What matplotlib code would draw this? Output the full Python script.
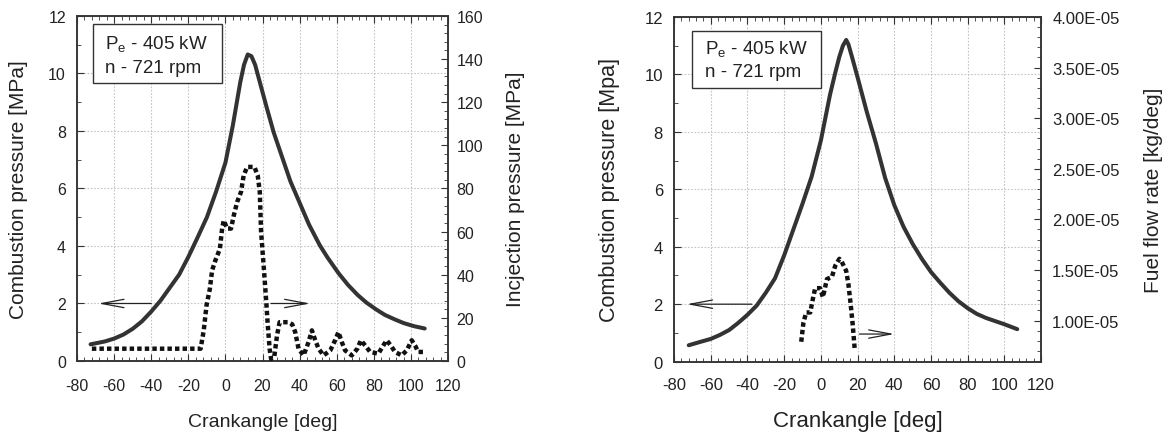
import matplotlib
matplotlib.use("Agg")
import matplotlib.pyplot as plt
from matplotlib.patches import Rectangle
from matplotlib.ticker import MultipleLocator, FixedLocator, FuncFormatter

plt.rcParams['font.family'] = ['Liberation Sans', 'DejaVu Sans']
plt.rcParams['axes.unicode_minus'] = False

# ---- data: left panel (combustion + injection pressure)
comb1_x = [-72.7, -65, -60, -55, -50, -45, -40, -35, -30, -25, -20, -15, -10, -5, 0, 4, 8, 10, 12, 14,
           16, 18.3, 22.3, 26, 30.5, 35, 40.6, 45, 50.8, 55, 61, 66, 71.2, 76, 81.3, 86, 91.5, 96, 101.7, 107.4]
comb1_y = [0.58, 0.68, 0.78, 0.92, 1.12, 1.38, 1.72, 2.1, 2.55, 3.0, 3.62, 4.3, 5.0, 5.9, 6.9, 8.2, 9.7, 10.3,
           10.66, 10.6, 10.3, 9.75, 8.8, 7.95, 7.1, 6.25, 5.41, 4.75, 4.03, 3.6, 3.05, 2.65, 2.3, 2.03, 1.79,
           1.6, 1.44, 1.32, 1.21, 1.13]

inj_x = [-72, -13.4, -11.7, -10.2, -8.4, -7.2, -5.4, -3.0, -1.8, -0.9, 0.9, 3.0, 4.5, 6.3, 8.4, 9.8, 11.7,
         15.6, 17.4, 18.5, 19.2, 20.6, 22.0, 22.7, 23.8, 24.6, 26.3, 27.8, 29.2, 34, 36, 37.6, 39.4, 42.1,
         44.8, 46.6, 48.4, 50.2, 52.9, 56.5, 59.1, 60.9, 62.7, 64.5, 68.1, 71.1, 73, 75.3, 78, 82.4, 85.1,
         86.9, 89.1, 91.4, 95, 97.7, 100.4, 102.2, 103.9, 106.6]
inj_p = [5.7, 5.7, 14.2, 25.8, 33.5, 42, 46.7, 52, 61.4, 65.2, 61.4, 61.4, 67.5, 73.7, 78.4, 86, 90,
         90, 86, 78.4, 60, 44, 27.4, 18, 5.7, 1, 1.9, 11.9, 18, 18, 17, 13.4, 5.7, 2.6,
         8.8, 14.2, 9.6, 5.7, 2.6, 4.9, 9.6, 13.4, 8.8, 4.9, 2.6, 5.7, 9.6, 7.2, 4.2, 3.4, 7.2,
         9.6, 7.2, 4.2, 2.6, 4.9, 9.6, 7.2, 4.2, 4.2]

# ---- data: right panel (combustion + fuel flow rate)
comb2_x = [-72, -65, -60, -55, -50, -45, -40, -35, -30, -25, -20, -15, -10, -5, 0, 5, 8, 10, 12, 13.8,
           15, 17, 20, 25, 30, 35, 40, 45, 50, 55, 60, 65, 70, 75, 80, 85, 90, 95, 100, 107]
comb2_y = [0.57, 0.70, 0.79, 0.93, 1.1, 1.35, 1.63, 1.95, 2.4, 2.9, 3.7, 4.6, 5.5, 6.45, 7.7, 9.3, 10.1,
           10.6, 11.0, 11.2, 11.05, 10.6, 9.9, 8.7, 7.6, 6.4, 5.45, 4.7, 4.1, 3.58, 3.12, 2.75, 2.4, 2.1,
           1.86, 1.66, 1.52, 1.41, 1.3, 1.13]

fuel_x = [-10.7, -9.5, -8.0, -5.8, -4.4, -3.1, -0.4, 1.1, 3.3, 6.0, 7.8, 10.1, 11.4, 13.8, 15.0, 16.3, 17.4, 18.5]
fuel_y = [0.79e-5, 0.98e-5, 1.08e-5, 1.08e-5, 1.21e-5, 1.32e-5, 1.32e-5, 1.23e-5, 1.41e-5, 1.43e-5,
          1.54e-5, 1.61e-5, 1.58e-5, 1.49e-5, 1.36e-5, 1.15e-5, 0.95e-5, 0.70e-5]
fuel_ticks = [1.0e-5, 1.5e-5, 2.0e-5, 2.5e-5, 3.0e-5, 3.5e-5, 4.0e-5]

info_lines = ["P$_\\mathregular{e}$ - 405 kW", "n - 721 rpm"]

LINE = '#333333'
TXT = '#222222'
GRID = '#c4c4c4'

fig = plt.figure(figsize=(11.69, 4.39), dpi=100)
ax1 = fig.add_axes([0.0659, 0.1754, 0.3174, 0.786])
ax2 = fig.add_axes([0.5766, 0.1740, 0.3140, 0.785])


def style_main(ax, fs, xpad):
    ax.set_xlim(-80, 120)
    ax.set_ylim(0, 12)
    ax.xaxis.set_major_locator(MultipleLocator(20))
    ax.xaxis.set_minor_locator(MultipleLocator(4))
    ax.yaxis.set_major_locator(MultipleLocator(2))
    ax.yaxis.set_minor_locator(MultipleLocator(1))
    ax.grid(True, which='major', color=GRID, linestyle=(0, (1.5, 1.5)), linewidth=0.8)
    ax.set_axisbelow(True)
    ax.tick_params(which='both', direction='in', top=True, right=False, colors='#333333',
                   labelcolor=TXT, labelsize=fs)
    ax.tick_params(axis='x', which='both', pad=xpad)
    ax.tick_params(axis='y', which='both', pad=8)
    ax.tick_params(which='major', length=5)
    ax.tick_params(which='minor', length=3)
    for s in ax.spines.values():
        s.set_color('#333333')
        s.set_linewidth(1.1)


def style_twin(ax, fs, pad):
    ax.tick_params(which='both', direction='in', colors='#333333', labelcolor=TXT, labelsize=fs, pad=pad)
    ax.tick_params(which='major', length=5)
    ax.tick_params(which='minor', length=3)
    for s in ax.spines.values():
        s.set_color('#333333')
        s.set_linewidth(1.1)


def arrow(ax, tail, tip):
    ax.annotate('', xy=tip, xytext=tail,
                arrowprops=dict(arrowstyle='->,head_length=1.6,head_width=0.3', lw=0.9, color=TXT,
                                shrinkA=0, shrinkB=0))


def info_box(ax, box, tx, ty1, ty2):
    ax.add_patch(Rectangle(box[:2], box[2], box[3], transform=ax.transAxes, fc='white',
                           ec='#333333', lw=1.0, zorder=4))
    ax.text(tx, ty1, info_lines[0], transform=ax.transAxes, ha='left', va='center',
            fontsize=13.5, color=TXT, zorder=5)
    ax.text(tx, ty2, info_lines[1], transform=ax.transAxes, ha='left', va='center',
            fontsize=13.5, color=TXT, zorder=5)


# ---------------- left panel
style_main(ax1, 11.5, 12)
ax1.plot(comb1_x, comb1_y, color=LINE, lw=2.9, solid_capstyle='round', solid_joinstyle='round', zorder=3)
ax1.set_xlabel('Crankangle [deg]', fontsize=14, color=TXT)
ax1.set_ylabel('Combustion pressure [MPa]', fontsize=15, color=TXT)
ax1.xaxis.set_label_coords(0.5, -0.15)
ax1.yaxis.set_label_coords(-0.132, 0.5)
info_box(ax1, (0.043, 0.806, 0.348, 0.171), 0.0755, 0.919, 0.852)
arrow(ax1, (-40, 2), (-68.5, 2))
arrow(ax1, (24.5, 2), (45.7, 2))

ax1b = ax1.twinx()
ax1b.set_ylim(0, 160)
ax1b.yaxis.set_major_locator(MultipleLocator(20))
ax1b.yaxis.set_minor_locator(MultipleLocator(4))
style_twin(ax1b, 11.5, 6)
ax1b.plot(inj_x, inj_p, color='#111111', lw=3.2, linestyle=(0, (1.0, 0.7)), zorder=3)
ax1b.set_ylabel('Incjection pressure [MPa]', fontsize=15, color=TXT)
ax1b.yaxis.set_label_coords(1.155, 0.5)

# ---------------- right panel
style_main(ax2, 12, 11)
ax2.plot(comb2_x, comb2_y, color=LINE, lw=2.9, solid_capstyle='round', solid_joinstyle='round', zorder=3)
ax2.set_xlabel('Crankangle [deg]', fontsize=16, color=TXT)
ax2.set_ylabel('Combustion pressure [Mpa]', fontsize=15.5, color=TXT)
ax2.xaxis.set_label_coords(0.5, -0.14)
ax2.yaxis.set_label_coords(-0.148, 0.5)
info_box(ax2, (0.049, 0.794, 0.351, 0.165), 0.0845, 0.907, 0.841)
arrow(ax2, (-37.6, 2), (-73, 2))
arrow(ax2, (21, 0.96), (40, 0.96))

ax2b = ax2.twinx()
ax2b.set_ylim(0.594e-5, 4.0e-5)
ax2b.yaxis.set_major_locator(FixedLocator(fuel_ticks))
ax2b.yaxis.set_minor_locator(MultipleLocator(0.1e-5))
ax2b.yaxis.set_major_formatter(FuncFormatter(lambda v, p: f"{v:.2E}"))
ax2b.yaxis.get_offset_text().set_visible(False)
style_twin(ax2b, 12, 8)
ax2b.plot(fuel_x, fuel_y, color='#111111', lw=3.2, linestyle=(0, (1.0, 0.7)), zorder=3)
ax2b.set_ylabel('Fuel flow rate [kg/deg]', fontsize=15, color=TXT)
ax2b.yaxis.set_label_coords(1.28, 0.5)

fig.savefig('out.png', dpi=100)
